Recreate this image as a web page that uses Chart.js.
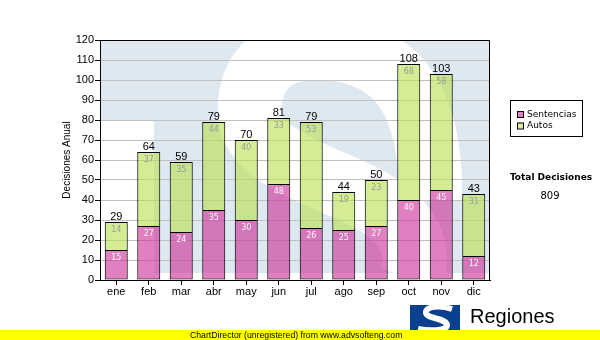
<!DOCTYPE html>
<html>
<head>
<meta charset="utf-8">
<title>Decisiones Anual</title>
<script src="https://cdn.jsdelivr.net/npm/chart.js@4.4.1/dist/chart.umd.min.js"></script>
<style>
  html, body { margin: 0; padding: 0; background: #fff; }
  #chart { display: block; }
</style>
</head>
<body>
<canvas id="chart" width="600" height="340"></canvas>
<script>
// datos por mes
const meses = ['ene', 'feb', 'mar', 'abr', 'may', 'jun', 'jul', 'ago', 'sep', 'oct', 'nov', 'dic'];
const sentencias = [15, 27, 24, 35, 30, 48, 26, 25, 27, 40, 45, 12];
const autos = [14, 37, 35, 44, 40, 33, 53, 19, 23, 68, 58, 31];
const ejeY = { min: 0, max: 120, paso: 10 };
const series = ['Sentencias', 'Autos'];

const totales = meses.map((m, i) => sentencias[i] + autos[i]);
const totalDecisiones = totales.reduce((a, b) => a + b, 0);

const colorSent = 'rgba(203, 43, 150, 0.6)';
const colorAutos = 'rgba(183, 223, 77, 0.6)';
const fuente = '"Liberation Sans", Arial, sans-serif';
const fuenteDV = '"DejaVu Sans", Verdana, sans-serif';

// logo de fondo dentro del area del grafico
const marcaAgua = {
    id: 'marcaAgua',
    beforeDraw(chart) {
        const ctx = chart.ctx;
        const ca = chart.chartArea;
        const L = ca.left, T = ca.top;
        ctx.save();
        ctx.beginPath();
        ctx.rect(ca.left, ca.top, ca.right - ca.left, ca.bottom - ca.top);
        ctx.clip();
        ctx.fillStyle = '#dee8f1';
        ctx.beginPath();
        ctx.moveTo(L, T);
        ctx.lineTo(ca.right, T);
        ctx.lineTo(ca.right, ca.bottom - 7);
        ctx.lineTo(L + 54, ca.bottom - 7);
        ctx.lineTo(L + 54, T + 80);
        ctx.lineTo(L, T + 80);
        ctx.closePath();
        ctx.fill();
        // la S blanca
        ctx.strokeStyle = '#ffffff';
        ctx.lineWidth = 64;
        ctx.lineCap = 'butt';
        ctx.beginPath();
        ctx.moveTo(L + 330, T + 160);
        ctx.bezierCurveTo(L + 332, T + 80, L + 310, T + 10, L + 220, T + 8);
        ctx.bezierCurveTo(L + 165, T + 7, L + 148, T + 40, L + 150, T + 75);
        ctx.bezierCurveTo(L + 152, T + 110, L + 200, T + 128, L + 250, T + 150);
        ctx.bezierCurveTo(L + 305, T + 174, L + 325, T + 205, L + 310, T + 240);
        ctx.stroke();
        ctx.restore();
    },
    beforeDatasetsDraw(chart) {
        const ctx = chart.ctx;
        const ca = chart.chartArea;
        ctx.save();
        ctx.strokeStyle = '#000';
        ctx.lineWidth = 1;
        ctx.beginPath();
        ctx.moveTo(ca.left, ca.top + 0.5);
        ctx.lineTo(ca.right - 0.5, ca.top + 0.5);
        ctx.lineTo(ca.right - 0.5, ca.bottom);
        ctx.stroke();
        ctx.restore();
    }
};

// valores dentro de cada tramo y total encima
const etiquetas = {
    id: 'etiquetas',
    afterDatasetsDraw(chart) {
        const ctx = chart.ctx;
        const metaS = chart.getDatasetMeta(0);
        const metaA = chart.getDatasetMeta(1);
        ctx.save();
        ctx.textAlign = 'center';
        metaS.data.forEach((bar, i) => {
            ctx.font = '8px ' + fuenteDV;
            ctx.textBaseline = 'middle';
            ctx.fillStyle = '#f6f6f6';
            ctx.fillText(sentencias[i], bar.x, bar.y + 7.5);
        });
        metaA.data.forEach((bar, i) => {
            ctx.font = '8px ' + fuenteDV;
            ctx.textBaseline = 'middle';
            ctx.fillStyle = '#9a9a9a';
            ctx.fillText(autos[i], bar.x, bar.y + 7.5);
            ctx.font = '11px ' + fuente;
            ctx.textBaseline = 'alphabetic';
            ctx.fillStyle = '#000';
            ctx.fillText(totales[i], bar.x, bar.y - 2.5);
        });
        ctx.restore();
    },
    afterDraw(chart) {
        const ctx = chart.ctx;
        const W = chart.width, H = chart.height;
        ctx.save();

        // leyenda con recuadro
        ctx.fillStyle = '#fff';
        ctx.fillRect(510, 100, 72, 37);
        ctx.strokeStyle = '#000';
        ctx.lineWidth = 1;
        ctx.strokeRect(510.5, 100.5, 72, 36);
        const colores = ['#df80c0', '#d6ec98'];
        series.forEach((s, i) => {
            const y = 111 + i * 11.5;
            ctx.fillStyle = colores[i];
            ctx.fillRect(517, y, 6, 6);
            ctx.strokeRect(517.5, y + 0.5, 6, 6);
            ctx.fillStyle = '#000';
            ctx.font = '9px ' + fuenteDV;
            ctx.textAlign = 'left';
            ctx.textBaseline = 'middle';
            ctx.fillText(s, 527, y + 3.5);
        });

        // total
        ctx.textAlign = 'center';
        ctx.font = 'bold 9px ' + fuenteDV;
        ctx.fillText('Total Decisiones', 551, 178);
        ctx.font = '10px ' + fuenteDV;
        ctx.fillText(String(totalDecisiones), 550, 196);

        // logo inferior
        ctx.fillStyle = '#0b3f8f';
        ctx.fillRect(410, 305, 50, 26);
        ctx.strokeStyle = '#fff';
        ctx.lineWidth = 6;
        ctx.beginPath();
        ctx.moveTo(452, 309);
        ctx.bezierCurveTo(440, 305, 425, 306, 426, 313);
        ctx.bezierCurveTo(427, 319, 448, 318, 447, 326);
        ctx.bezierCurveTo(446, 331, 428, 331, 418, 329);
        ctx.stroke();
        ctx.fillStyle = '#000';
        ctx.font = '20px ' + fuente;
        ctx.textAlign = 'left';
        ctx.textBaseline = 'alphabetic';
        ctx.fillText('Regiones', 470, 323);

        // franja amarilla
        ctx.fillStyle = '#ffff00';
        ctx.fillRect(0, 330, W, H - 330);
        ctx.fillStyle = '#000';
        ctx.font = '8.7px ' + fuente;
        ctx.textBaseline = 'middle';
        ctx.fillText('ChartDirector (unregistered) from www.advsofteng.com', 190, 335.5);
        ctx.restore();
    }
};

const ctx = document.getElementById('chart').getContext('2d');
new Chart(ctx, {
    type: 'bar',
    data: {
        labels: meses,
        datasets: [{
            label: series[0],
            data: sentencias,
            backgroundColor: colorSent,
            borderColor: '#000',
            borderWidth: 1,
            borderSkipped: false
        }, {
            label: series[1],
            data: autos,
            backgroundColor: colorAutos,
            borderColor: '#000',
            borderWidth: { top: 1, left: 1, right: 1, bottom: 0 },
            borderSkipped: false
        }]
    },
    options: {
        responsive: false,
        animation: false,
        layout: { padding: { left: 58, right: 110, top: 40, bottom: 40 } },
        datasets: { bar: { categoryPercentage: 1, barPercentage: 0.708 } },
        plugins: {
            legend: { display: false },
            tooltip: { enabled: false }
        },
        scales: {
            x: {
                stacked: true,
                afterFit: s => { s.height = 20; },
                grid: {
                    offset: false,
                    drawOnChartArea: false,
                    drawTicks: true,
                    tickLength: 5,
                    tickColor: '#000'
                },
                border: { color: '#000' },
                ticks: { color: '#000', padding: 0, font: { family: fuente, size: 11 } }
            },
            y: {
                stacked: true,
                min: ejeY.min,
                max: ejeY.max,
                afterFit: s => { s.width = 42; },
                grid: {
                    color: '#c0c0c0',
                    tickColor: '#000',
                    tickLength: 5
                },
                border: { color: '#000' },
                ticks: {
                    stepSize: ejeY.paso,
                    color: '#000',
                    padding: 1,
                    font: { family: fuente, size: 11 }
                },
                title: {
                    display: true,
                    text: 'Decisiones Anual',
                    color: '#000',
                    padding: { top: 3, bottom: 0 },
                    font: { family: fuente, size: 10 }
                }
            }
        }
    },
    plugins: [marcaAgua, etiquetas]
});
</script>
</body>
</html>
